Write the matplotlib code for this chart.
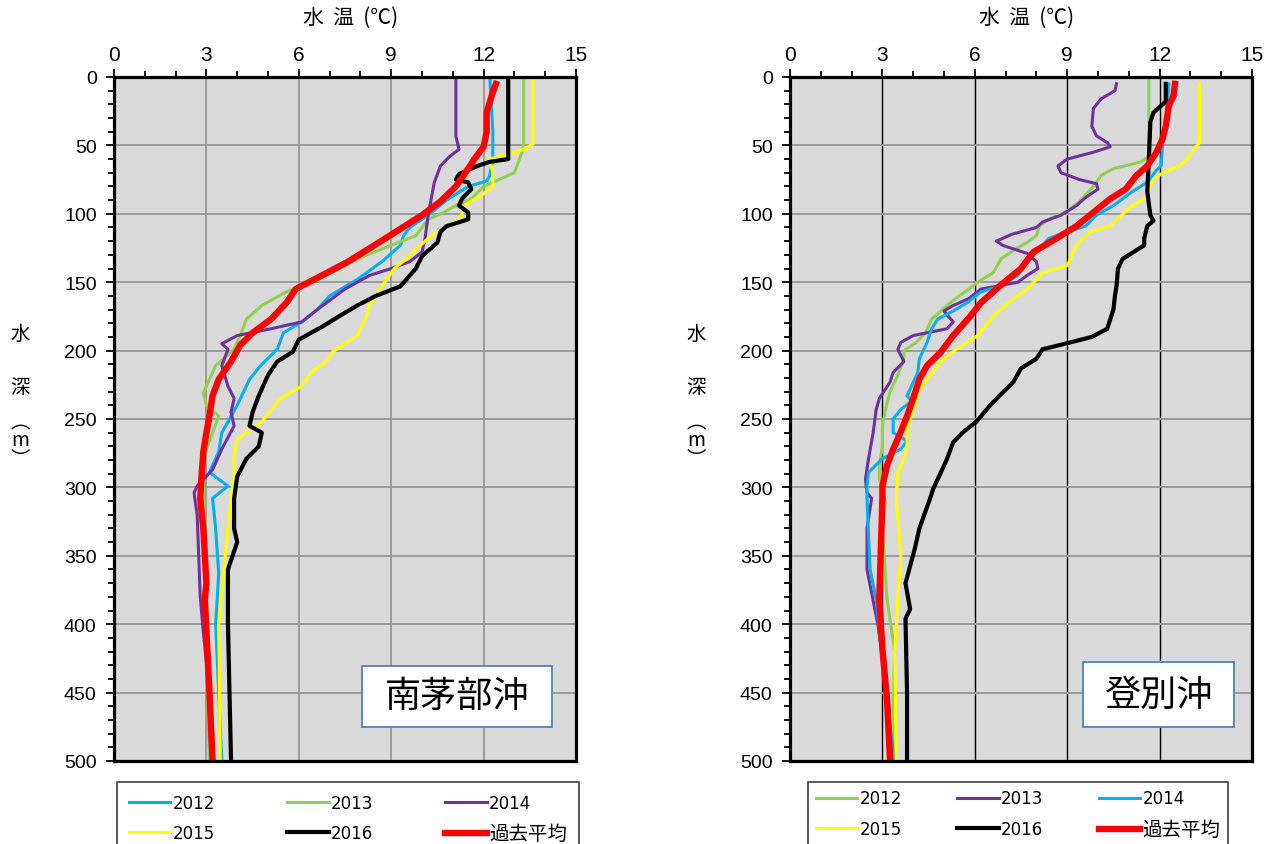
import matplotlib
matplotlib.use("Agg")
import matplotlib.pyplot as plt
from matplotlib.patches import Rectangle
from matplotlib.ticker import MultipleLocator

plt.rcParams['font.family'] = ['Liberation Sans', 'Noto Sans CJK JP']

# ---- 南茅部沖 (left panel): depth (m) / temperature (deg C) ----
mk_d_2012 = [0, 20, 40, 60, 72, 76, 80, 90, 101, 110, 116, 123, 135, 148, 160, 170, 179, 187, 199, 210,
             221, 240, 260, 274, 289, 299, 308, 330, 363, 400, 450, 500]
mk_t_2012 = [12.2, 12.25, 12.3, 12.3, 12.2, 12.1, 11.5, 10.8, 10.2, 9.6, 9.4, 9.3, 8.7, 7.9, 7.0, 6.6, 6.1, 5.5, 5.3, 4.8,
             4.4, 4.0, 3.5, 3.4, 3.1, 3.7, 3.2, 3.3, 3.4, 3.3, 3.4, 3.5]

mk_d_2013 = [0, 51, 58, 70, 76, 80, 89, 94, 99, 104, 116, 123, 133, 145, 157, 167, 177, 189, 199, 211,
             231, 240, 248, 260, 272, 284, 300, 350, 420, 500]
mk_t_2013 = [13.3, 13.3, 13.2, 13.0, 12.4, 12.0, 11.6, 11.1, 10.7, 10.2, 9.8, 9.0, 7.9, 6.9, 5.6, 4.8, 4.3, 4.1, 3.9, 3.3,
             2.9, 3.0, 3.4, 3.2, 3.0, 2.9, 2.9, 3.0, 3.0, 3.1]

mk_d_2014 = [0, 43, 53, 58, 65, 77, 89, 101, 118, 128, 135, 140, 145, 155, 170, 179, 184, 189, 195, 199,
             211, 226, 235, 245, 255, 272, 287, 299, 304, 320, 380, 406, 450, 500]
mk_t_2014 = [11.1, 11.1, 11.2, 10.9, 10.6, 10.4, 10.3, 10.2, 10.1, 10.0, 9.6, 9.0, 8.3, 7.5, 6.6, 6.1, 5.1, 4.0, 3.5, 3.7,
             3.5, 3.7, 3.9, 3.8, 3.9, 3.5, 3.2, 2.7, 2.6, 2.7, 2.8, 2.9, 3.1, 3.2]

mk_d_2015 = [0, 49, 53, 60, 70, 80, 87, 92, 104, 109, 116, 126, 133, 140, 153, 167, 175, 189, 201, 208,
             216, 226, 235, 252, 265, 277, 292, 308, 330, 400, 500]
mk_t_2015 = [13.6, 13.6, 13.3, 12.2, 12.3, 12.3, 11.9, 11.5, 11.2, 10.8, 10.3, 9.8, 9.5, 9.1, 8.7, 8.3, 8.2, 7.9, 7.1, 6.9,
             6.4, 6.1, 5.4, 4.8, 4.0, 3.9, 3.9, 3.8, 3.7, 3.4, 3.45]

mk_d_2016 = [0, 55, 60, 62, 65, 71, 75, 77, 82, 89, 94, 99, 104, 109, 113, 121, 131, 140, 153, 160,
             167, 175, 182, 192, 201, 208, 218, 233, 245, 255, 260, 270, 279, 292, 308, 330, 340, 360, 400, 500]
mk_t_2016 = [12.8, 12.8, 12.8, 12.2, 11.8, 11.2, 11.1, 11.5, 11.6, 11.3, 11.2, 11.5, 11.5, 10.8, 10.6, 10.5, 10.0, 9.8, 9.3, 8.5,
             7.9, 7.3, 6.8, 6.0, 5.8, 5.3, 5.0, 4.7, 4.5, 4.4, 4.8, 4.7, 4.3, 4.0, 3.9, 3.9, 4.0, 3.7, 3.7, 3.8]

mk_d_mean = [5, 11, 26, 40, 51, 60, 67, 80, 91, 101, 111, 121, 135, 148, 155, 165, 177, 187, 196, 208,
             221, 233, 248, 260, 274, 289, 308, 330, 370, 382, 450, 500]
mk_t_mean = [12.4, 12.3, 12.1, 12.1, 12.0, 11.7, 11.5, 11.1, 10.6, 10.0, 9.3, 8.6, 7.6, 6.5, 5.9, 5.6, 5.1, 4.5, 4.1, 3.8,
             3.4, 3.2, 3.1, 3.0, 2.9, 2.85, 2.8, 2.9, 3.0, 2.95, 3.1, 3.2]

# ---- 登別沖 (right panel) ----
nb_d_2012 = [0, 58, 62, 67, 72, 80, 91, 98, 104, 109, 116, 121, 126, 133, 143, 150, 160, 167, 177, 187,
             194, 200, 206, 218, 230, 243, 255, 270, 284, 294, 310, 330, 382, 420, 455, 500]
nb_t_2012 = [11.65, 11.65, 11.4, 10.5, 10.1, 9.85, 9.4, 9.0, 8.4, 8.1, 8.0, 7.7, 7.3, 6.85, 6.6, 6.1, 5.5, 5.1, 4.6, 4.4,
             4.1, 3.7, 3.7, 3.5, 3.25, 3.1, 3.0, 3.0, 2.9, 2.9, 3.1, 3.0, 3.15, 3.4, 3.35, 3.4]

nb_d_2013 = [5, 10, 16, 23, 36, 43, 48, 51, 55, 60, 65, 70, 75, 78, 82, 88, 94, 101, 106, 110,
             115, 120, 123, 129, 135, 140, 145, 150, 153, 155, 162, 167, 171, 174, 179, 184, 189, 194, 199, 208,
             216, 223, 235, 243, 260, 279, 294, 304, 308, 330, 360, 400, 455, 500]
nb_t_2013 = [10.6, 10.55, 10.1, 9.85, 9.8, 9.95, 10.3, 10.4, 9.85, 9.0, 8.7, 8.8, 9.4, 9.95, 10.0, 9.6, 9.3, 8.8, 8.2, 8.0,
             7.2, 6.7, 6.9, 7.7, 8.0, 8.05, 7.7, 7.4, 6.7, 6.2, 5.8, 5.3, 5.0, 5.1, 5.3, 5.1, 4.0, 3.6, 3.5, 3.7,
             3.35, 3.25, 2.9, 2.8, 2.7, 2.55, 2.45, 2.5, 2.65, 2.5, 2.5, 2.85, 3.2, 3.3]

nb_d_2014 = [5, 36, 48, 65, 68, 77, 84, 94, 101, 109, 113, 118, 126, 135, 145, 153, 157, 165, 171, 177,
             184, 194, 206, 216, 233, 237, 243, 250, 260, 266, 272, 279, 289, 299, 308, 360, 382, 450, 500]
nb_t_2014 = [12.3, 12.2, 12.1, 12.05, 11.9, 11.6, 11.1, 10.5, 9.95, 9.6, 9.0, 8.4, 8.1, 7.7, 7.4, 6.8, 6.2, 5.75, 5.3, 4.8,
             4.6, 4.45, 4.2, 4.15, 3.8, 3.95, 3.6, 3.35, 3.35, 3.8, 3.6, 3.0, 2.55, 2.5, 2.5, 2.6, 2.8, 3.1, 3.4]

nb_d_2015 = [5, 48, 53, 60, 65, 70, 75, 84, 89, 96, 109, 113, 123, 138, 143, 148, 155, 165, 175, 189,
             199, 208, 218, 228, 240, 257, 270, 279, 289, 308, 350, 382, 420, 500]
nb_t_2015 = [13.3, 13.3, 13.1, 12.9, 12.65, 12.1, 11.8, 11.6, 11.5, 11.0, 10.4, 9.75, 9.3, 9.0, 8.2, 8.0, 7.7, 7.1, 6.6, 6.1,
             5.4, 4.9, 4.55, 4.2, 4.05, 3.8, 3.8, 3.7, 3.5, 3.45, 3.6, 3.5, 3.4, 3.45]

nb_d_2016 = [5, 18, 22, 26, 33, 60, 84, 101, 105, 109, 118, 123, 128, 133, 140, 153, 160, 170, 184, 190,
             196, 199, 206, 213, 223, 233, 240, 252, 260, 267, 279, 289, 301, 308, 330, 345, 370, 389, 396, 450, 500]
nb_t_2016 = [12.2, 12.2, 12.0, 11.8, 11.7, 11.65, 11.6, 11.7, 11.8, 11.6, 11.5, 11.5, 11.15, 10.8, 10.65, 10.6, 10.55, 10.5, 10.3, 9.8,
             8.75, 8.2, 8.0, 7.5, 7.25, 6.8, 6.5, 6.05, 5.6, 5.3, 5.1, 4.9, 4.65, 4.55, 4.2, 4.05, 3.75, 3.9, 3.75, 3.8, 3.8]

nb_d_mean = [5, 14, 21, 36, 45, 55, 65, 72, 82, 89, 99, 109, 118, 128, 140, 153, 165, 175, 189, 201,
             211, 221, 235, 248, 262, 272, 284, 299, 308, 382, 418, 455, 500]
nb_t_mean = [12.5, 12.45, 12.3, 12.2, 12.1, 11.9, 11.6, 11.25, 10.9, 10.4, 9.85, 9.3, 8.65, 7.9, 7.5, 6.8, 6.2, 5.85, 5.3, 4.9,
             4.45, 4.2, 4.0, 3.8, 3.55, 3.35, 3.15, 3.0, 3.0, 2.9, 3.0, 3.15, 3.25]

labels = ['2012', '2013', '2014', '2015', '2016', '過去平均']
left_colors = ['#00B0F0', '#92D050', '#7030A0', '#FFFF00', '#000000', '#FF0000']
right_colors = ['#92D050', '#7030A0', '#00B0F0', '#FFFF00', '#000000', '#FF0000']
widths = [2.2, 2.2, 2.2, 2.2, 3.0, 4.6]

W, H = 1273, 845
fig = plt.figure(figsize=(W / 100, H / 100), dpi=100)
cjk = 'Noto Sans CJK JP'


def panel(left_px, depths, temps, colors, name, box, vgrid):
    ax = fig.add_axes([left_px / W, (H - 762) / H, 462 / W, 684 / H])
    ax.set_facecolor('#D9D9D9')
    lines = []
    for d, t, c, lw, lab in zip(depths, temps, colors, widths, labels):
        ln, = ax.plot(t, d, color=c, lw=lw, label=lab, solid_joinstyle='round')
        lines.append(ln)
    ax.set_xlim(0, 15)
    ax.set_ylim(500, 0)
    ax.xaxis.set_major_locator(MultipleLocator(3))
    ax.xaxis.set_minor_locator(MultipleLocator(1))
    ax.yaxis.set_major_locator(MultipleLocator(50))
    ax.yaxis.set_minor_locator(MultipleLocator(10))
    ax.xaxis.tick_top()
    ax.tick_params(which='both', direction='out', width=1.3, color='black')
    ax.tick_params(which='major', length=5.5)
    ax.tick_params(which='minor', length=4)
    ax.tick_params(axis='x', which='both', top=True, bottom=False, pad=4, labelsize=15)
    ax.tick_params(axis='y', pad=7, labelsize=14)
    for lb in ax.get_xticklabels():
        lb.set_family(['Liberation Sans Narrow', 'Liberation Sans'])
    ax.set_axisbelow(True)
    ax.grid(axis='y', which='major', color='#969696', lw=1.3)
    ax.grid(axis='x', which='major', color=vgrid, lw=1.3 if vgrid != 'black' else 1.0)
    for s in ax.spines.values():
        s.set_linewidth(2.3)
        s.set_color('black')
    x0, x1, y0, y1 = box
    ax.add_patch(Rectangle((x0, y0), x1 - x0, y1 - y0, transform=ax.transAxes,
                           facecolor='white', edgecolor='#4F81BD', lw=1.3, zorder=5))
    ax.text((x0 + x1) / 2, (y0 + y1) / 2, name, transform=ax.transAxes, ha='center', va='center',
            fontsize=26, family=cjk, zorder=6)
    # axis titles
    fig.text((left_px + 237) / W, 1 - 18 / H, '水  温  (℃)', ha='center', va='center',
             fontsize=15, family=cjk)
    fig.text((left_px - 94) / W, 1 - 361 / H, '水\n深', ha='center', va='center',
             fontsize=14, family=cjk, linespacing=3.0)
    fig.text((left_px - 94) / W, 1 - 441 / H, '︵\nm\n︶', ha='center', va='center',
             fontsize=14, family=cjk, linespacing=0.85)
    return lines


mk_lines = panel(114, [mk_d_2012, mk_d_2013, mk_d_2014, mk_d_2015, mk_d_2016, mk_d_mean],
                 [mk_t_2012, mk_t_2013, mk_t_2014, mk_t_2015, mk_t_2016, mk_t_mean],
                 left_colors, '南茅部沖', (0.537, 0.948, 0.0497, 0.139), '#969696')
nb_lines = panel(790, [nb_d_2012, nb_d_2013, nb_d_2014, nb_d_2015, nb_d_2016, nb_d_mean],
                 [nb_t_2012, nb_t_2013, nb_t_2014, nb_t_2015, nb_t_2016, nb_t_mean],
                 right_colors, '登別沖', (0.634, 0.961, 0.0497, 0.1447), 'black')

order = [0, 3, 1, 4, 2, 5]
for lines, x_px, colsp, bpad in [(mk_lines, 117, 4.3, 0.7), (nb_lines, 808, 3.3, 0.45)]:
    leg = fig.legend([lines[i] for i in order], [labels[i] for i in order], ncol=3,
                     loc='upper left', bbox_to_anchor=(x_px / W, 1 - 783 / H),
                     frameon=True, fancybox=False, framealpha=1, edgecolor='#404040',
                     borderpad=bpad, handlelength=2.5, handletextpad=0.15,
                     columnspacing=colsp, labelspacing=0.75, borderaxespad=0,
                     prop={'family': ['DejaVu Sans', cjk], 'size': 12})
    leg.get_frame().set_linewidth(1.2)
    leg.get_texts()[5].set_fontsize(14)

fig.savefig('out.png', dpi=100)
